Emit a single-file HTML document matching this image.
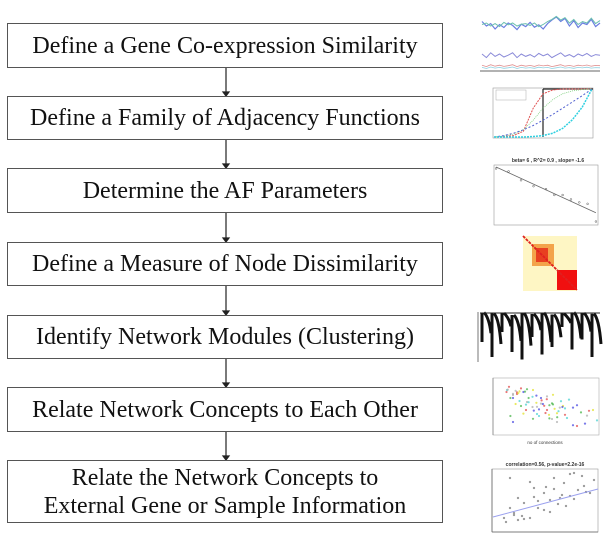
<!DOCTYPE html>
<html><head><meta charset="utf-8"><style>
body{margin:0;width:613px;height:541px;background:#fff;position:relative;overflow:hidden;font-family:"Liberation Serif",serif;}
.box{position:absolute;left:7px;width:436px;border:1.5px solid #555;box-sizing:border-box;display:flex;align-items:center;justify-content:center;text-align:center;font-size:24px;line-height:28px;color:#111;background:#fff;white-space:nowrap;}
svg{position:absolute;left:0;top:0;}
</style></head><body>
<svg width="613" height="541">
<g stroke="#222" stroke-width="1.2" fill="#222" id="arrows"></g>
</svg>
<div class="box" style="top:23px;height:45px">Define a Gene Co-expression Similarity</div>
<div class="box" style="top:96px;height:44px">Define a Family of Adjacency Functions</div>
<div class="box" style="top:168px;height:45px">Determine the AF Parameters</div>
<div class="box" style="top:242px;height:44px">Define a Measure of Node Dissimilarity</div>
<div class="box" style="top:315px;height:44px">Identify Network Modules (Clustering)</div>
<div class="box" style="top:387px;height:45px">Relate Network Concepts to Each Other</div>
<div class="box" style="top:460px;height:63px">Relate the Network Concepts to<br>External Gene or Sample Information</div>

<svg width="613" height="541" id="thumbs"></svg>
<script>
const seriesA=[55,40,48,30,45,35,50,42,28,46,38,52,36,44,30,48,60,70,55,65,40,58,35,50,45,62,38,50];
const seriesB=[45,50,40,48,38,52,44,50,40,46,48,42,50,38,45,55,62,72,60,68,50,62,45,55,50,66,48,58];
const seriesC=[20,14,22,16,20,15,18,22,14,20,16,19,15,21,17,20,14,18,22,16,19,15,20,17,21,16,19,18];
const afX=[0,0.1,0.2,0.3,0.4,0.5,0.6,0.7,0.8,0.9,1];
const afRed=[0,0.01,0.03,0.12,0.6,0.9,0.98,1,1,1,1];
const afGreen=[0,0.02,0.06,0.15,0.35,0.6,0.78,0.9,0.96,0.99,1];
const afBlue=[0,0.03,0.08,0.15,0.24,0.35,0.47,0.6,0.73,0.86,1];
const afCyan=[0,0,0,0,0.01,0.03,0.08,0.18,0.36,0.62,1];
const sfX=[1.0,1.3,1.6,1.9,2.2,2.4,2.6,2.8,3.0,3.2,3.4];
const sfY=[-0.9,-1.0,-1.3,-1.5,-1.6,-1.8,-1.8,-1.95,-2.05,-2.1,-2.7];
const corrX=[5,8,10,12,15,18,20,22,25,28,30,33,35,38,40,42,45,48,50,8,12,18,25,30,36,44,10,15,22,28,34,40,6,14,20,26,32,38,46];
const corrY=[1,2,1.5,3,2.5,1,4,2,3.5,2.8,5,3,4.5,3.2,5.5,3.8,4.2,3.5,4.8,5,0.8,4.6,1.8,3.9,2.2,5.2,1.3,0.9,2.7,1.6,3.3,2.9,0.6,1.2,3.1,4.1,2.4,5.4,3.6];
const dendroBranch=[0.95,0.85,0.9,0.7,0.88,0.8,0.92,0.75,0.86,0.96,0.9,0.82];
const dendroDepth=[0.6,0.9,0.4,0.8,0.95,0.5,0.85,0.7,0.3,0.75,0.55,0.9];

const S=document.getElementById('thumbs');const NS='http://www.w3.org/2000/svg';
function el(t,a,p){const e=document.createElementNS(NS,t);for(const k in a)e.setAttribute(k,a[k]);(p||S).appendChild(e);return e;}
const A=document.getElementById('arrows');
[[68,96],[140,168],[213,242],[286,315],[359,387],[432,460]].forEach(([a,b])=>{
 const l=el('line',{x1:226,y1:a,x2:226,y2:b-3},A);
 
 
 el('polygon',{points:`223,${b-4} 229,${b-4} 226,${b}`},A);
});
function lineOf(xs,ys,sx,sy,col,w,dash){let d='';xs.forEach((x,i)=>{d+=(i?'L':'M')+sx(x).toFixed(1)+','+sy(ys[i]).toFixed(1)});const p=el('path',{d:d,fill:'none',stroke:col,'stroke-width':w||1,'stroke-dasharray':dash||''});return p;}
const idx=seriesA.map((_,i)=>i);
const tx=i=>482+i*118/(seriesA.length-1);
lineOf(idx,seriesA,tx,v=>38-v*0.3,'#6b7fe0',1.2);
lineOf(idx,seriesB,tx,v=>38-v*0.3,'#6cc0b0',1);
lineOf(idx,seriesC,tx,v=>66-v*0.6,'#8a8ad8',1);
lineOf(idx,seriesC.map(v=>v*0.4),tx,v=>70-v*0.6,'#e09090',0.8);
lineOf(idx,seriesC.map(v=>v*0.3),tx,v=>71-v*0.6,'#90d0e0',0.8);
el('line',{x1:480,y1:71,x2:600,y2:71,stroke:'#999','stroke-width':1.5});
el('rect',{x:493,y:88,width:100,height:50,fill:'#fff',stroke:'#999','stroke-width':0.6});
const ax=v=>494+v*98,ay=v=>137-v*48;
el('line',{x1:ax(0.5),y1:89,x2:ax(0.5),y2:137,stroke:'#222','stroke-width':1.2});
el('line',{x1:ax(0.5),y1:89,x2:593,y2:89,stroke:'#222','stroke-width':1.2});
lineOf(afX,afRed,ax,ay,'#e05050',1,'2,1');
lineOf(afX,afGreen,ax,ay,'#80d080',0.8,'1,1');
lineOf(afX,afBlue,ax,ay,'#5060d0',1,'2,2');
lineOf(afX,afCyan,ax,ay,'#30d0e0',1.5,'2,1');
el('rect',{x:496,y:90,width:30,height:10,fill:'#fff',stroke:'#aaa','stroke-width':0.5});
const t3=el('text',{x:548,y:162,'font-size':5,'text-anchor':'middle','font-family':'Liberation Sans',fill:'#333','font-weight':'bold'},S);t3.textContent='beta= 6 , R^2= 0.9 , slope= -1.6';
el('rect',{x:494,y:165,width:104,height:60,fill:'#fff',stroke:'#999','stroke-width':0.6});
const fx=v=>494+(v-0.95)*104/2.5,fy=v=>167+(-0.85-v)*56/1.9;
lineOf([1,3.4],[-0.85,-2.4],fx,fy,'#666',0.8);
sfX.forEach((x,i)=>{const c=el('circle',{cx:fx(x),cy:fy(sfY[i]),r:0.9,fill:'none',stroke:'#555','stroke-width':0.5});});
el('rect',{x:523,y:236,width:54,height:55,fill:'#fef6c4'});
el('rect',{x:532,y:244,width:22,height:22,fill:'#f3a34a'});
el('rect',{x:536,y:248,width:12,height:14,fill:'#e84020'});
el('rect',{x:557,y:270,width:20,height:20,fill:'#f01010'});
el('line',{x1:523,y1:236,x2:577,y2:290,stroke:'#e02020','stroke-width':1.8,'stroke-dasharray':'3,1'});
el('line',{x1:478,y1:312,x2:478,y2:362,stroke:'#555','stroke-width':0.8});
dendroBranch.forEach((b,i)=>{const x0=482+i*10;const top=312+(1-b)*10;const bot=312+dendroDepth[i]*50;
 const p=el('path',{d:`M${x0},${top} L${x0},${bot} M${x0+2},${top} Q${x0+7},${top+5} ${x0+9},${bot*0.7+top*0.3}`,stroke:'#111','stroke-width':3,fill:'none'});
 });
el('line',{x1:480,y1:313,x2:600,y2:313,stroke:'#222','stroke-width':1});
el('rect',{x:493,y:378,width:106,height:57,fill:'#fff',stroke:'#aaa','stroke-width':0.6});
const cols=['#40d0d0','#4040e0','#e04040','#40b040','#aaaaaa','#e0e020'];
corrX.forEach((x,i)=>{const c=el('circle',{cx:497+x*2.0,cy:382+corrY[i]*8,r:1.1,fill:cols[i%6],opacity:0.7});
 const c2=el('circle',{cx:500+x*1.3,cy:386+corrY[i]*6,r:1.1,fill:cols[(i+2)%6],opacity:0.7});});
el('line',{x1:493,y1:378,x2:493,y2:435,stroke:'#888','stroke-width':0.8});
const t6=el('text',{x:545,y:444,'font-size':4.5,'text-anchor':'middle','font-family':'Liberation Sans',fill:'#333'},S);t6.textContent='no of connections';
const t7=el('text',{x:545,y:466,'font-size':5,'text-anchor':'middle','font-family':'Liberation Sans',fill:'#333','font-weight':'bold'},S);t7.textContent='correlation=0.56, p-value=2.2e-16';
el('rect',{x:492,y:469,width:106,height:63,fill:'#fff',stroke:'#999','stroke-width':0.6});
corrX.forEach((x,i)=>{const c=el('circle',{cx:494+x*2.0,cy:528-corrY[i]*10,r:0.9,fill:'none',stroke:'#555','stroke-width':0.5});});
el('line',{x1:493,y1:517,x2:598,y2:489,stroke:'#9aa0ee','stroke-width':1});
el('line',{x1:492,y1:469,x2:492,y2:532,stroke:'#666','stroke-width':0.8});
el('line',{x1:492,y1:532,x2:598,y2:532,stroke:'#666','stroke-width':0.8});
</script>
</body></html>
